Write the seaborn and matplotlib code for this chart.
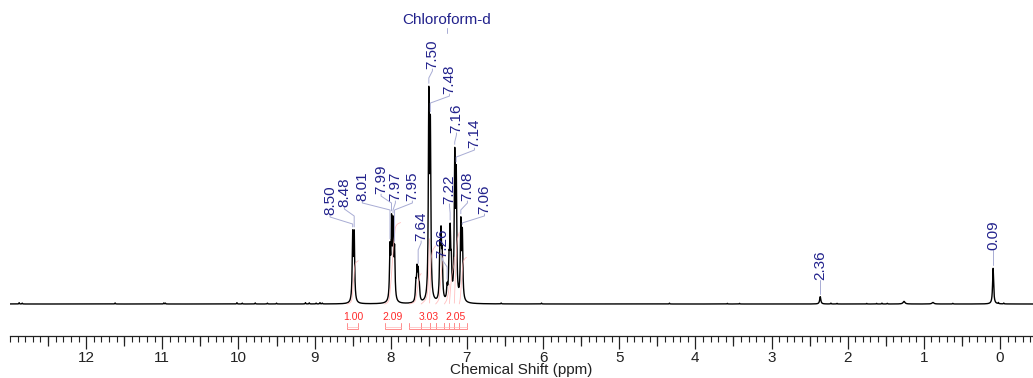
import numpy as np
import pandas as pd
import matplotlib
matplotlib.use("Agg")
import matplotlib.pyplot as plt
import seaborn as sns
from matplotlib.ticker import MultipleLocator, FixedLocator

# ---------------- data ----------------
# resonance lines: position (ppm), height (relative), half width (ppm)
line_ppm = [8.50, 8.48, 8.01, 7.99, 7.97, 7.95,
            7.67, 7.655, 7.64, 7.625,
            7.50, 7.48,
            7.355, 7.34, 7.325, 7.26,
            7.235, 7.22, 7.205,
            7.16, 7.14, 7.08, 7.06,
            2.36, 1.26, 0.88, 0.09]
line_height = [0.305, 0.305, 0.23, 0.34, 0.33, 0.22,
               0.08, 0.135, 0.125, 0.06,
               0.91, 0.76,
               0.22, 0.27, 0.19, 0.06,
               0.16, 0.29, 0.15,
               0.64, 0.55, 0.35, 0.30,
               0.034, 0.012, 0.007, 0.165]
line_hwhm = [0.0075] * 23 + [0.009, 0.015, 0.015, 0.008]

# small baseline artefacts
noise_ppm = [12.88, 12.84, 11.62, 10.96, 10.98, 10.02, 9.95, 9.78, 9.62, 9.50,
             9.12, 9.07, 8.98, 8.93, 8.90, 6.55, 6.02, 4.34, 3.58, 3.42,
             2.22, 2.14, 1.75, 1.62, 1.55, 1.48, 0.62, 0.02, -0.05]
noise_height = [0.006, 0.004, 0.005, 0.004, 0.005, 0.006, 0.004, 0.005, 0.004, 0.004,
                0.006, 0.005, 0.004, 0.006, 0.004, 0.004, 0.004, 0.004, 0.003, 0.003,
                0.004, 0.003, 0.003, 0.003, 0.004, 0.003, 0.003, 0.005, 0.004]

# peak labels
label_text = ["8.50", "8.48", "8.01", "7.99", "7.97", "7.95", "7.64", "7.50", "7.48",
              "7.26", "7.22", "7.16", "7.14", "7.08", "7.06", "2.36", "0.09"]
label_ppm = [8.50, 8.48, 8.01, 7.99, 7.97, 7.95, 7.64, 7.50, 7.48,
             7.26, 7.22, 7.16, 7.14, 7.08, 7.06, 2.36, 0.09]

# integrals
int_start = [8.57, 8.08, 7.755, 7.60, 7.49, 7.41, 7.295, 7.23, 7.165, 7.10]
int_end = [8.425, 7.87, 7.60, 7.49, 7.41, 7.295, 7.23, 7.165, 7.10, 7.005]
int_label = ["1.00", "2.09", "3.03", "2.05"]
int_label_ppm = [8.497, 7.977, 7.505, 7.15]

solvent = "Chloroform-d"
solvent_ppm = 7.26

# ---------------- layout (label placement, not data) ----------------
lab_x = [8.797, 8.609, 8.373, 8.127, 7.939, 7.716, 7.601, 7.453, 7.229,
         7.321, 7.229, 7.137, 6.901, 6.993, 6.769, 2.36, 0.09]
lab_y = [0.412, 0.449, 0.477, 0.509, 0.477, 0.477, 0.292, 1.088, 0.972,
         0.213, 0.463, 0.792, 0.722, 0.477, 0.417, 0.111, 0.25]

# ---------------- build spectrum ----------------
ppm = np.arange(13.2, -0.6, -0.0005)
def lor(x, x0, h, w):
    return h / (1.0 + ((x - x0) / w) ** 2)

spec = np.zeros_like(ppm)
for p, h, w in zip(line_ppm, line_height, line_hwhm):
    spec += lor(ppm, p, h, w)
for p, h in zip(noise_ppm, noise_height):
    spec += lor(ppm, p, h, 0.004)
df = pd.DataFrame({"ppm": ppm, "I": spec})

def spec_at(p):
    return float(np.interp(p, ppm[::-1], spec[::-1]))

# ---------------- figure ----------------
sns.set_theme(style="white")
plt.rcParams["font.family"] = ["Liberation Sans", "DejaVu Sans"]

W, H = 1033, 378
fig = plt.figure(figsize=(W / 100, H / 100), dpi=100)
ax = fig.add_axes([10 / W, 42 / H, 1 - 10 / W, 336 / H])

PXX = 76.08   # px per ppm
PXY = 216.0   # px per intensity unit

sns.lineplot(data=df, x="ppm", y="I", ax=ax, color="black", lw=1.0,
             sort=False, estimator=None)

ax.set_xlim(13.0, -0.434)
ax.set_ylim(-32 / PXY, 304 / PXY)

for s in ["top", "left", "right"]:
    ax.spines[s].set_visible(False)
ax.spines["bottom"].set_color("#222222")
ax.spines["bottom"].set_linewidth(0.9)
ax.set_yticks([])
ax.xaxis.set_major_locator(FixedLocator(list(range(0, 13))))
ax.xaxis.set_minor_locator(MultipleLocator(0.1))
ax.tick_params(axis="x", which="major", length=9, width=0.9, color="#222222",
               labelsize=11, pad=1.5, labelcolor="#222222", bottom=True)
ax.tick_params(axis="x", which="minor", length=4.5, width=0.8, color="#222222", bottom=True)
sec = ax.secondary_xaxis("bottom")
sec.set_xticks(np.arange(0.5, 13.0, 1.0))
sec.tick_params(length=7, width=0.9, color="#222222", labelbottom=False)
sec.spines["bottom"].set_visible(False)
ax.set_xlabel("Chemical Shift (ppm)", fontsize=11, labelpad=-1, color="#222222")
ax.set_ylabel("")

# integral curves and brackets
red = "#ff2a2a"
areas = []
for a, b in zip(int_start, int_end):
    m = (ppm <= a) & (ppm >= b)
    areas.append(spec[m].sum())
kscale = 0.20 / areas[0]
for a, b in zip(int_start, int_end):
    m = (ppm <= a) & (ppm >= b)
    cum = np.cumsum(spec[m]) * kscale
    ax.plot(ppm[m], cum, color="#ffb0b0", lw=0.6, alpha=0.8)
    yb0, yb1 = -19 / PXY, -25 / PXY
    ax.plot([a, a, b, b], [yb0, yb1, yb1, yb0], color="#ff8c8c", lw=0.7)
    ax.plot([a, b], [yb1 + 2 / PXY, yb1 + 2 / PXY], color="#ffb8b8", lw=0.5)
for t, p in zip(int_label, int_label_ppm):
    ax.text(p, -13 / PXY, t, color=red, fontsize=7.5, ha="center", va="center")

# peak labels with leader lines
blue = "#22228c"
lead = "#a8acd4"
for t, p, lx, ly in zip(label_text, label_ppm, lab_x, lab_y):
    ax.text(lx, ly, t, rotation=90, ha="center", va="bottom", fontsize=11, color=blue)
    top = spec_at(p) + 3 / PXY
    y1 = ly - 2 / PXY
    y2 = ly - 9 / PXY
    xs = [lx, lx, p]
    ys = [ly, y1, y2]
    if top < y2:
        xs.append(p)
        ys.append(top)
    ax.plot(xs, ys, color=lead, lw=0.7)

# solvent label
ax.text(solvent_ppm, (304 - 27) / PXY, solvent, ha="center", va="bottom",
        fontsize=11, color=blue)
ax.plot([solvent_ppm, solvent_ppm], [(304 - 28) / PXY, (304 - 33) / PXY], color=lead, lw=0.7)

fig.savefig("out.png", dpi=100)
